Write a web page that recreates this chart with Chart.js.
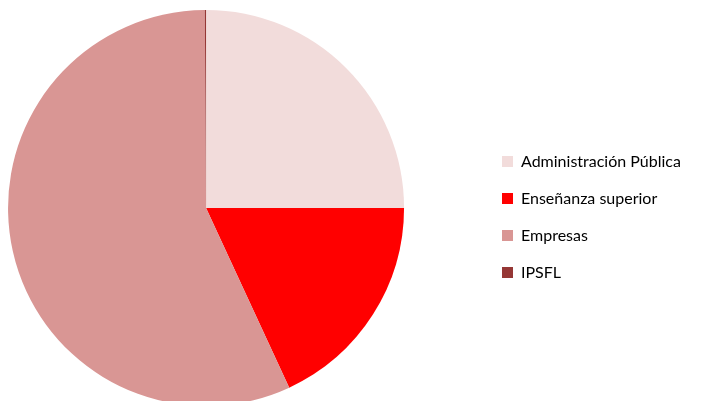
<!DOCTYPE html>
<html>
<head>
<meta charset="utf-8">
<script src="https://cdn.jsdelivr.net/npm/chart.js@4"></script>
<style>
  html, body { margin: 0; padding: 0; background: #fff; overflow: hidden; }
  #wrap { width: 708px; height: 401px; overflow: hidden; }
</style>
</head>
<body>
<div id="wrap"><canvas id="chart" width="708" height="412"></canvas></div>
<script>
const categories = ['Administración Pública', 'Enseñanza superior', 'Empresas', 'IPSFL'];
const shares = [25.0, 18.1, 56.8, 0.1];
const colors = ['#F2DCDB', '#FF0000', '#D99694', '#953735'];

// move the legend box to where the reference puts it
const legendPlacer = {
    id: 'legendPlacer',
    afterLayout(chart) {
        const legend = chart.legend;
        const dx = 481 - legend.left;
        const dy = 9;
        legend.left += dx;
        legend.right += dx;
        legend.top += dy;
        legend.bottom += dy;
    }
};

const config = {
    type: 'pie',
    data: {
        labels: categories,
        datasets: [{
            data: shares,
            backgroundColor: colors,
            borderWidth: 0,
        }]
    },
    options: {
        responsive: false,
        animation: false,
        layout: {
            padding: { left: 8, top: 10, bottom: 6, right: 94 }
        },
        plugins: {
            tooltip: { enabled: false },
            legend: {
                position: 'right',
                align: 'center',
                labels: {
                    boxWidth: 11,
                    boxHeight: 11,
                    padding: 21,
                    color: '#000',
                    font: { family: 'Lato', size: 16 }
                }
            }
        }
    },
    plugins: [legendPlacer]
};

new Chart(document.getElementById('chart'), config);
</script>
</body>
</html>
